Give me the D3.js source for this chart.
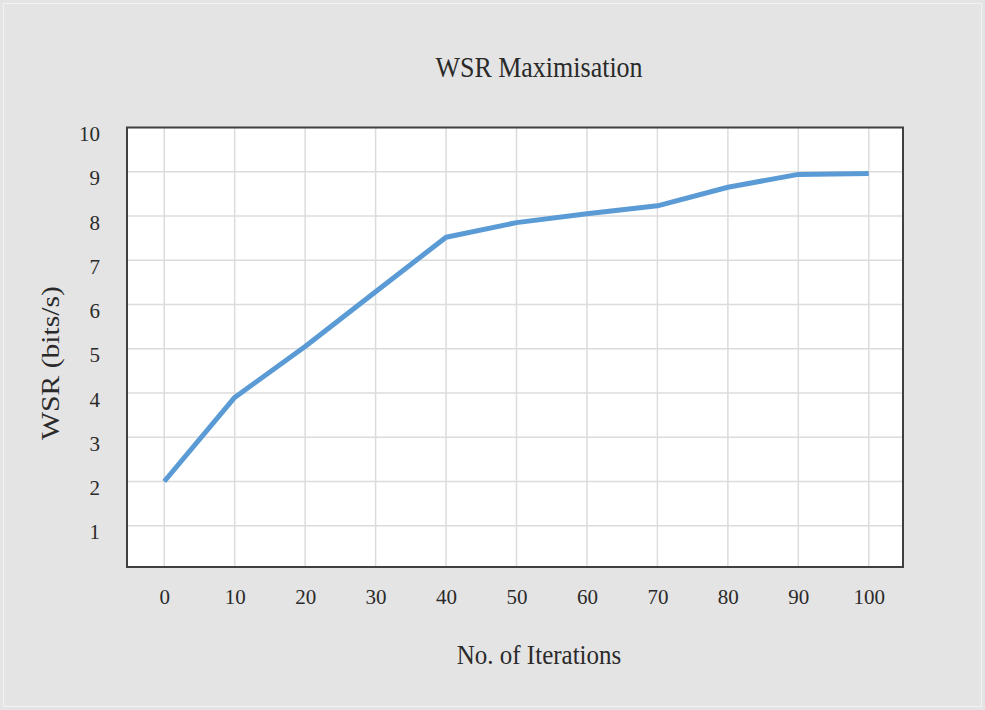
<!DOCTYPE html>
<html>
<head>
<meta charset="utf-8">
<script src="https://cdn.jsdelivr.net/npm/d3@7"></script>
<style>
  html, body { margin: 0; padding: 0; background: #e4e4e4; }
  svg text { font-family: "Liberation Serif", "Times New Roman", serif; fill: #2a2a2a; }
</style>
</head>
<body>
<div id="chart"></div>
<script>
// Data
const iterations = [0, 10, 20, 30, 40, 50, 60, 70, 80, 90, 100];
const wsr = [2.0, 3.9, 5.05, 6.29, 7.52, 7.85, 8.05, 8.23, 8.65, 8.94, 8.96];
const yTicks = [1, 2, 3, 4, 5, 6, 7, 8, 9, 10];

const width = 985, height = 710;
const plot = { left: 127, right: 903, top: 127.5, bottom: 567 };

const svg = d3.select("#chart")
    .append("svg")
    .attr("width", width)
    .attr("height", height);

// Background frame
svg.append("rect")
    .attr("x", 3.5).attr("y", 3.5)
    .attr("width", width - 7).attr("height", height - 7)
    .attr("fill", "#e4e4e4")
    .attr("stroke", "#f2f2f2")
    .attr("stroke-width", 1);

// Scales
const x = d3.scalePoint()
    .domain(iterations)
    .range([plot.left + 2, plot.right + 1])
    .padding(0.5);

const y = d3.scaleLinear()
    .domain([0, 10])
    .range([570, plot.top]);

// Plot area
svg.append("rect")
    .attr("x", plot.left).attr("y", plot.top)
    .attr("width", plot.right - plot.left)
    .attr("height", plot.bottom - plot.top)
    .attr("fill", "#ffffff");

// Gridlines
const grid = svg.append("g").attr("class", "grid");
grid.selectAll("line.h")
    .data(yTicks)
    .enter().append("line")
    .attr("class", "h")
    .attr("x1", plot.left).attr("x2", plot.right)
    .attr("y1", d => y(d)).attr("y2", d => y(d))
    .attr("stroke", "#dcdcdc")
    .attr("stroke-width", 1.5);

grid.selectAll("line.v")
    .data(iterations)
    .enter().append("line")
    .attr("class", "v")
    .attr("x1", d => x(d)).attr("x2", d => x(d))
    .attr("y1", plot.top).attr("y2", plot.bottom)
    .attr("stroke", "#dcdcdc")
    .attr("stroke-width", 1.5);

// Series line
const line = d3.line()
    .x((d, i) => x(iterations[i]))
    .y(d => y(d));

svg.append("path")
    .datum(wsr)
    .attr("d", line)
    .attr("fill", "none")
    .attr("stroke", "#5b9bd5")
    .attr("stroke-width", 5)
    .attr("stroke-linejoin", "round");

// Plot border
svg.append("rect")
    .attr("x", plot.left).attr("y", plot.top)
    .attr("width", plot.right - plot.left)
    .attr("height", plot.bottom - plot.top)
    .attr("fill", "none")
    .attr("stroke", "#404040")
    .attr("stroke-width", 2);

// Axes (labels only, no domain/ticks)
const xAxis = svg.append("g")
    .attr("transform", `translate(0,${plot.bottom})`)
    .call(d3.axisBottom(x).tickSize(0).tickPadding(22));
xAxis.select(".domain").remove();
xAxis.selectAll("text")
    .style("font-size", "21px")
    .attr("fill", "#2a2a2a");

const yAxis = svg.append("g")
    .attr("transform", `translate(${plot.left},0)`)
    .call(d3.axisLeft(y).tickValues(yTicks).tickSize(0).tickPadding(27));
yAxis.select(".domain").remove();
yAxis.selectAll("text")
    .style("font-size", "21px")
    .attr("fill", "#2a2a2a")
    .attr("dy", "0.62em");

// Titles (the original is slightly stretched vertically)
svg.append("text")
    .attr("transform", "translate(539,77) scale(1,1.12)")
    .attr("text-anchor", "middle")
    .style("font-size", "26px")
    .text("WSR Maximisation");

svg.append("text")
    .attr("transform", "translate(539,664) scale(1,1.12)")
    .attr("text-anchor", "middle")
    .style("font-size", "25px")
    .text("No. of Iterations");

svg.append("text")
    .attr("transform", "translate(59,363) rotate(-90) scale(1.14,1)")
    .attr("text-anchor", "middle")
    .style("font-size", "26px")
    .text("WSR (bits/s)");
</script>
</body>
</html>
